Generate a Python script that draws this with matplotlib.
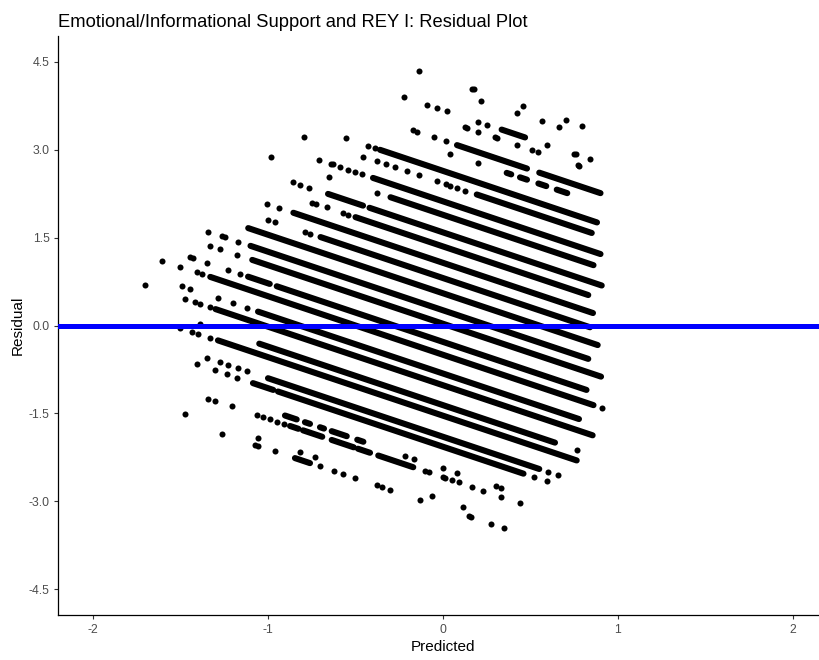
import numpy as np
import matplotlib.pyplot as plt

# observed outcome levels; each gives one diagonal band (residual = observed - predicted)
levels = [4.21, 4.05, 3.68, 3.51, 3.16, 2.97, 2.64, 2.43, 2.12, 1.89,
          1.59, 1.35, 1.07, 0.81, 0.55, 0.26, 0.03, -0.28, -0.50, -0.82,
          -1.02, -1.36, -1.54, -1.90, -2.07, -2.44, -2.59, -2.98, -3.11]

# stretches of predicted values where points overlap into a solid run, per level
run_ranges = [
    [],
    [],
    [(0.335, 0.469)],
    [],
    [(0.08, 0.48), (0.55, 0.90)],
    [(0.364, 0.39), (0.44, 0.48), (0.545, 0.59), (0.65, 0.71)],
    [(-0.36, 0.88)],
    [(0.193, 0.85)],
    [(-0.40, 0.90)],
    [(-0.30, 0.86)],
    [(-0.657, -0.457), (-0.42, 0.907)],
    [(-0.50, 0.83)],
    [(-0.855, 0.857)],
    [(-0.70, 0.84)],
    [(-1.113, 0.884)],
    [(-1.10, 0.83)],
    [(-1.09, 0.903)],
    [(-1.114, -0.99), (-0.95, 0.82)],
    [(-1.33, 0.86)],
    [(-1.057, 0.777)],
    [(-1.30, 0.855)],
    [(-1.05, 0.64)],
    [(-1.286, 0.764)],
    [(-1.00, 0.55)],
    [(-1.086, -0.97), (-0.943, 0.46)],
    [(-0.903, -0.836), (-0.789, -0.76), (-0.703, -0.68), (-0.636, -0.55), (-0.49, -0.455)],
    [(-0.874, -0.826), (-0.80, -0.69), (-0.636, -0.51), (-0.486, -0.417), (-0.37, -0.17)],
    [],
    [(-0.846, -0.76)],
]

# single points (predicted values), per level
dot_preds = [
    [-0.137, 0.165, 0.18, 0.459, 0.703, 0.796],
    [0.215, 0.421, 0.564, 0.665],
    [-0.225, -0.09, -0.036, 0.025, 0.202, 0.253, 0.593, 0.749, 0.76, 0.84],
    [0.126, 0.135, 0.202, 0.297, 0.31, 0.421, 0.507, 0.545, 0.771, 0.78],
    [-0.17, -0.15, -0.051, 0.017],
    [0.04, 0.202],
    [-0.556, -0.427, -0.39],
    [-0.794, -0.455, -0.379, -0.326, -0.274, -0.207, -0.135, -0.036, 0.017,
     0.04, 0.078, 0.126],
    [-0.71, -0.64, -0.63, -0.59, -0.54, -0.50, -0.46],
    [-0.983, -0.65, -0.379],
    [-0.859, -0.817, -0.764],
    [-0.75, -0.726, -0.665, -0.571, -0.54],
    [-1.007, -0.94],
    [-0.998, -0.96, -0.789, -0.76],
    [],
    [-1.345, -1.265, -1.246, -1.17],
    [-1.331, -1.274, -1.18],
    [-1.446, -1.427, -1.347, -1.227, -1.16],
    [-1.607, -1.503, -1.407, -1.379, 0.907],
    [-1.493, -1.446, -1.286, -1.2, -1.12],
    [-1.703, -1.474, -1.417, -1.39, -1.331],
    [-1.387, 0.764],
    [-1.503, -1.436, -1.4, -1.331],
    [-1.35, -1.274, -1.227, -1.17, -1.122, 0.60, 0.659],
    [-1.407, -1.303, -1.236, -1.179, 0.52, 0.593],
    [-0.217, -0.166, 0.0, 0.078, 0.303, 0.33],
    [-1.343, -1.303, -1.207, -1.065, -1.03, -0.99, -0.95, -0.91, -0.1, -0.08,
     0.0, 0.011, 0.05, 0.09, 0.164, 0.229, 0.331, 0.44],
    [-1.474, -1.055, -0.817, -0.731, -0.065, 0.112],
    [-1.265, -1.074, -1.055, -0.96, -0.703, -0.62, -0.57, -0.50, -0.379, -0.35,
     -0.303, -0.131, 0.15, 0.16, 0.273, 0.35],
]

x_ticks = [-2, -1, 0, 1, 2]
y_ticks = [-4.5, -3.0, -1.5, 0.0, 1.5, 3.0, 4.5]

plt.rcParams['font.family'] = ['Liberation Sans', 'DejaVu Sans']

fig = plt.figure(figsize=(8.2, 6.6), dpi=100)
ax = fig.add_axes([58 / 820, 44.6 / 660, 770 / 820, 579.8 / 660])

for obs, runs in zip(levels, run_ranges):
    for lo, hi in runs:
        pred = np.array([lo, hi])
        ax.plot(pred, obs - pred, color="black", lw=4.4, solid_capstyle="round")

pts_x = []
pts_y = []
for obs, preds in zip(levels, dot_preds):
    for p in preds:
        pts_x.append(p)
        pts_y.append(obs - p)
ax.scatter(pts_x, pts_y, s=19, color="black", linewidths=0)

ax.axhline(0, color="#0000ff", lw=3.6, zorder=5)

ax.set_xlim(-2.2, 2.2)
ax.set_ylim(-4.95, 4.95)
ax.set_xticks(x_ticks)
ax.set_xticklabels([str(t) for t in x_ticks])
ax.set_yticks(y_ticks)
ax.set_yticklabels(["%.1f" % t for t in y_ticks])

for side in ["top", "right"]:
    ax.spines[side].set_visible(False)
for side in ["left", "bottom"]:
    ax.spines[side].set_linewidth(0.9)
    ax.spines[side].set_color("black")

ax.tick_params(axis="both", length=3, width=0.8, color="#333333",
               labelcolor="#4d4d4d", labelsize=8.8, pad=3)

ax.set_xlabel("Predicted", fontsize=11, labelpad=3)
ax.set_ylabel("Residual", fontsize=11, labelpad=3)
ax.set_title("Emotional/Informational Support and REY I: Residual Plot",
             loc="left", fontsize=13.2, pad=6)

fig.savefig("out.png", dpi=100)
